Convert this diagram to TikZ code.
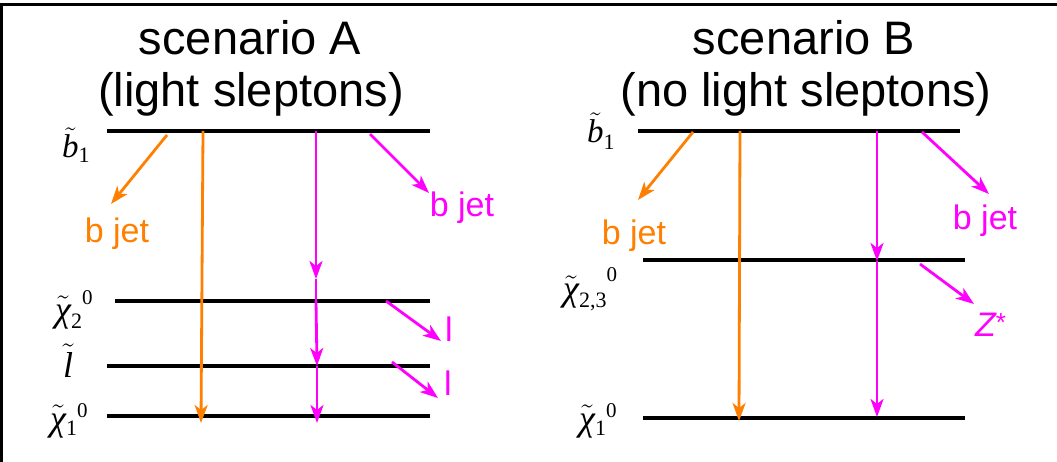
\RequirePackage{fix-cm}
\documentclass[tikz,border=0pt]{standalone}
\usepackage{fontspec}
\setmainfont{Liberation Sans}
\newfontfamily\lserif{Liberation Serif}
\usetikzlibrary{arrows.meta}
\definecolor{myorange}{RGB}{255,128,0}
\definecolor{mymagenta}{RGB}{255,0,255}
\newcommand{\stl}[1]{$\tilde{\hbox{\lserif\itshape #1}}$}
\newcommand{\ssub}[2][-7pt]{\raisebox{#1}{\fontsize{22}{22}\selectfont\lserif #2}}
\newcommand{\ssup}[2][16pt]{\raisebox{#1}{\fontsize{21}{21}\selectfont\lserif #2}}
\tikzset{
  level/.style={line width=3.2pt, black},
  decay/.style={line width=2.8pt, -{Stealth[length=18pt,width=13pt,inset=5pt]}},
  orangearrow/.style={decay, myorange},
  magentaarrow/.style={decay, mymagenta},
  plainmag/.style={line width=2.8pt, mymagenta},
  titletext/.style={font=\fontsize{47}{56}\selectfont, inner sep=0pt, anchor=base},
  prodtext/.style={font=\fontsize{34}{40}\selectfont, inner sep=0pt},
  statelabel/.style={font=\fontsize{36}{42}\selectfont, inner sep=0pt, anchor=base west},
  blabel/.style={font=\fontsize{33}{38}\selectfont, inner sep=0pt, anchor=base west},
}
\begin{document}
\begin{tikzpicture}[x=1pt,y=-1pt]
\useasboundingbox (0,0) rectangle (1057,462);
% frame
\coordinate (fBL) at (1.5,462);
\coordinate (fTL) at (1.5,5);
\coordinate (fTR) at (1057,5);
\draw[line width=3pt] (fBL) -- (fTL) -- (fTR);

% titles
\node[titletext] (tA1) at (250,55) {scenario A};
\node[titletext] (tA2) at (251,107) {(light sleptons)};
\node[titletext] (tB1) at (804,55) {scenario B};
\node[titletext] (tB2) at (806,107) {(no light sleptons)};

% ---------- scenario A levels ----------
\coordinate (Ab1L) at (107,131); \coordinate (Ab1R) at (430,131);
\coordinate (Ax2L) at (115,301); \coordinate (Ax2R) at (430,301);
\coordinate (AslL) at (107,366); \coordinate (AslR) at (430,366);
\coordinate (Ax1L) at (107,416); \coordinate (Ax1R) at (430,416);
\draw[level] (Ab1L) -- (Ab1R);
\draw[level] (Ax2L) -- (Ax2R);
\draw[level] (AslL) -- (AslR);
\draw[level] (Ax1L) -- (Ax1R);

\node[blabel] (Lb1A) at (62,158) {\stl{b}\ssub[-5pt]{1}};
\node[statelabel] (Lx2A) at (55,321) {\stl{χ}\ssub{2}\ssup[17pt]{0}};
\node[statelabel] (LslA) at (63,377) {\stl{l}};
\node[statelabel] (Lx1A) at (50,430) {\stl{χ}\ssub[-5pt]{1}\ssup[13pt]{0}};

% A orange decays
\coordinate (Ao1s) at (167,135); \coordinate (Ao1e) at (111,204);
\draw[orangearrow] (Ao1s) -- (Ao1e);
\node[prodtext, text=myorange] (AbjetO) at (117,234) {b jet};
\coordinate (Ao2s) at (203,131); \coordinate (Ao2e) at (201,423);
\draw[orangearrow] (Ao2s) -- (Ao2e);

% A magenta decays
\coordinate (Am1s) at (316,131); \coordinate (Am1e) at (316,279);
\coordinate (Am2s) at (316,301); \coordinate (Am2e) at (317,366);
\coordinate (Am3e) at (317,423);
\draw[magentaarrow] (Am1s) -- (Am1e);
\draw[plainmag] (Am1e) -- (Am2s);
\draw[magentaarrow] (Am2s) -- (Am2e);
\draw[magentaarrow] (Am2e) -- (Am3e);

\coordinate (Am4s) at (370,134); \coordinate (Am4e) at (429,193);
\draw[magentaarrow] (Am4s) -- (Am4e);
\node[prodtext, text=mymagenta] (AbjetM) at (462,208) {b jet};
\coordinate (Am5s) at (386,301); \coordinate (Am5e) at (441,341);
\draw[magentaarrow] (Am5s) -- (Am5e);
\node[prodtext, text=mymagenta] (Al1) at (449,329) {l};
\coordinate (Am6s) at (392,362); \coordinate (Am6e) at (438,398);
\draw[magentaarrow] (Am6s) -- (Am6e);
\node[prodtext, text=mymagenta] (Al2) at (448,383) {l};

% ---------- scenario B levels ----------
\coordinate (Bb1L) at (638,131); \coordinate (Bb1R) at (960,131);
\coordinate (Bx2L) at (643,260); \coordinate (Bx2R) at (965,260);
\coordinate (Bx1L) at (643,418); \coordinate (Bx1R) at (965,418);
\draw[level] (Bb1L) -- (Bb1R);
\draw[level] (Bx2L) -- (Bx2R);
\draw[level] (Bx1L) -- (Bx1R);

\node[blabel] (Lb1B) at (587,143) {\stl{b}\ssub{1}};
\node[statelabel] (Lx2B) at (563,301) {\stl{χ}\ssub{2,3}\ssup[19pt]{0}};
\node[statelabel] (Lx1B) at (579,430) {\stl{χ}\ssub[-5pt]{1}\ssup[13pt]{0}};

% B orange decays
\coordinate (Bo1s) at (693,132); \coordinate (Bo1e) at (638,200);
\draw[orangearrow] (Bo1s) -- (Bo1e);
\node[prodtext, text=myorange] (BbjetO) at (634,236) {b jet};
\coordinate (Bo2s) at (740,131); \coordinate (Bo2e) at (739,421);
\draw[orangearrow] (Bo2s) -- (Bo2e);

% B magenta decays
\coordinate (Bm1s) at (877,131); \coordinate (Bm1e) at (877,261);
\coordinate (Bm2e) at (877,417);
\draw[magentaarrow] (Bm1s) -- (Bm1e);
\draw[magentaarrow] (Bm1e) -- (Bm2e);
\coordinate (Bm3s) at (922,132); \coordinate (Bm3e) at (989,194);
\draw[magentaarrow] (Bm3s) -- (Bm3e);
\node[prodtext, text=mymagenta] (BbjetM) at (985,221) {b jet};
\coordinate (Bm4s) at (920,264); \coordinate (Bm4e) at (974,304);
\draw[magentaarrow] (Bm4s) -- (Bm4e);
\node[prodtext, text=mymagenta, anchor=west] (BZ) at (975,325) {\itshape Z\raisebox{5pt}{\fontsize{26}{26}\selectfont\upshape *}};
\end{tikzpicture}
\end{document}
